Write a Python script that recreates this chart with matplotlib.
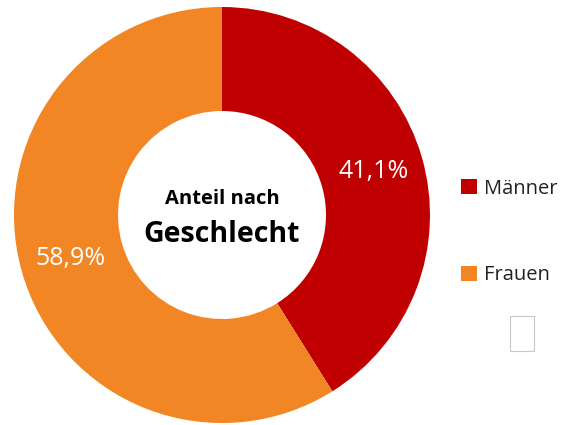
import matplotlib
matplotlib.use("Agg")
from matplotlib import pyplot as plt
from matplotlib.patches import Rectangle

labels = ["Männer", "Frauen"]
shares = [41.1, 58.9]
colors = ["#C00000", "#F28524"]
center_title = ["Anteil nach", "Geschlecht"]

plt.rcParams['font.family'] = ['Open Sans', 'DejaVu Sans']

W, H = 567, 425
fig = plt.figure(figsize=(W / 100, H / 100), dpi=100)
ax = fig.add_axes([0, 0, 1, 1])

cx, cy, r = 222, H - 215, 208

wedges, texts, autotexts = ax.pie(
    shares, colors=colors, startangle=90, counterclock=False,
    center=(cx, cy), radius=r, frame=True,
    autopct=lambda p: f"{p:.1f}%".replace('.', ','),
    pctdistance=0.76,
    wedgeprops=dict(width=r * 0.5, edgecolor='none'),
    textprops=dict(color='white', fontsize=18))
ax.set_xlim(0, W)
ax.set_ylim(0, H)
ax.set_aspect('equal')
ax.axis('off')

# centre caption
ax.text(cx, cy + 16, center_title[0], ha='center', va='center',
        fontsize=14.5, fontweight='bold', color='black')
ax.text(cx, cy - 19, center_title[1], ha='center', va='center',
        fontsize=20.5, fontweight='bold', color='black')

leg = ax.legend(wedges, labels, loc='center left', frameon=False,
                bbox_to_anchor=(461 / W, 1 - 232 / H), bbox_transform=fig.transFigure,
                borderpad=0, borderaxespad=0,
                fontsize=14.5, handlelength=0.8, handleheight=0.8,
                handletextpad=0.35, labelspacing=3.3)
for t in leg.get_texts():
    t.set_color('#222222')

# the little empty box below the legend
ax.add_patch(Rectangle((510, H - 351), 24, 35, facecolor='white',
                       edgecolor='#c8c8c8', linewidth=0.8))

fig.savefig("out.png", dpi=100)
